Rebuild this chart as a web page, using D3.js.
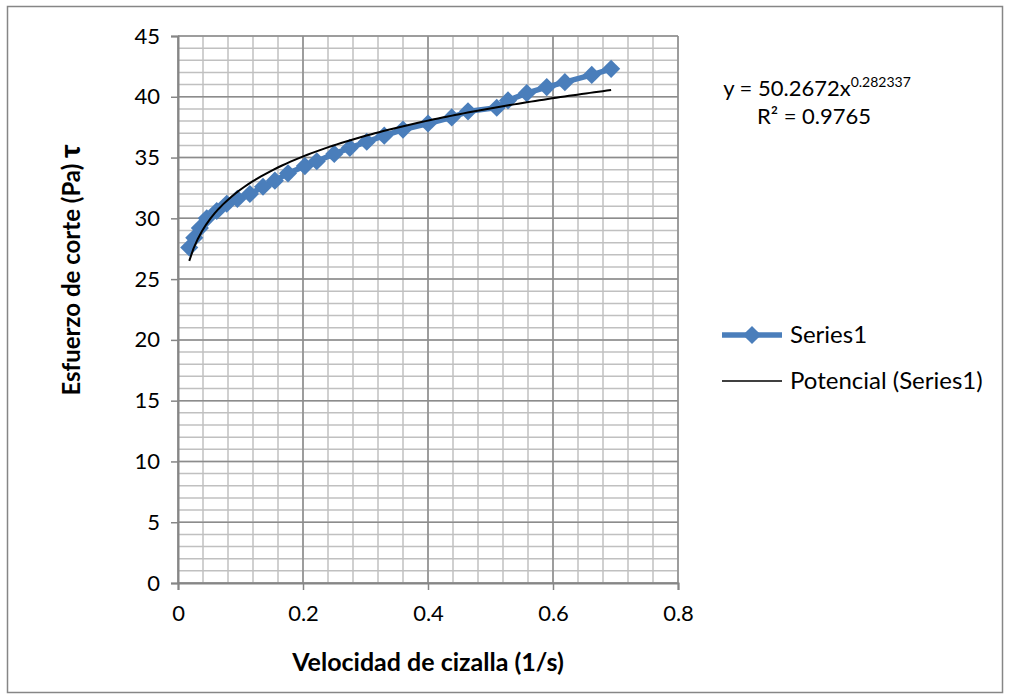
<!DOCTYPE html>
<html>
<head>
<meta charset="utf-8">
<title>Esfuerzo de corte</title>
<style>
  body { margin: 0; background: #fff; }
  svg text { font-family: Lato, "Open Sans", sans-serif; fill: #000; }
</style>
</head>
<body>
<div class="chart"></div>
<script src="https://cdn.jsdelivr.net/npm/d3@7"></script>
<script>
// data
var shearRate = [0.018, 0.026, 0.035, 0.046, 0.062, 0.078, 0.095, 0.115, 0.136, 0.155,
                 0.176, 0.203, 0.222, 0.25, 0.275, 0.302, 0.33, 0.36, 0.40, 0.438,
                 0.464, 0.51, 0.528, 0.558, 0.59, 0.619, 0.662, 0.693];
var stress    = [27.6, 28.4, 29.2, 30.0, 30.6, 31.2, 31.6, 32.0, 32.6, 33.1,
                 33.7, 34.3, 34.7, 35.3, 35.8, 36.3, 36.8, 37.3, 37.8, 38.3,
                 38.8, 39.1, 39.7, 40.3, 40.8, 41.2, 41.8, 42.3];
var xTicks = [0, 0.2, 0.4, 0.6, 0.8];
var yTicks = [0, 5, 10, 15, 20, 25, 30, 35, 40, 45];
var seriesNames = ["Series1", "Potencial (Series1)"];
var eqText = ["y = 50.2672x", "0.282337", "R\u00b2 = 0.9765"];

var width = 1010, height = 700;
var plotL = 178, plotR = 678, plotT = 36, plotB = 583;

var svg = d3.select(".chart").append("svg")
  .attr("width", width).attr("height", height);

// outer chart border
svg.append("rect")
  .attr("x", 7.5).attr("y", 6.5)
  .attr("width", 995).attr("height", 686)
  .attr("fill", "none").attr("stroke", "#868686").attr("stroke-width", 1.5);

var x = d3.scaleLinear().domain([0, 0.8]).range([plotL, plotR]);
var y = d3.scaleLinear().domain([0, 45]).range([plotB, plotT]);

// minor grid
var g = svg.append("g");
g.selectAll(".vminor").data(d3.range(0, 21).map(function(i){ return i * 0.04; }))
  .enter().append("line")
  .attr("x1", function(d){ return x(d); }).attr("x2", function(d){ return x(d); })
  .attr("y1", plotT).attr("y2", plotB)
  .attr("stroke", "#c0c0c0").attr("stroke-width", 1.5);
g.selectAll(".hminor").data(d3.range(0, 46))
  .enter().append("line")
  .attr("x1", plotL).attr("x2", plotR)
  .attr("y1", function(d){ return y(d); }).attr("y2", function(d){ return y(d); })
  .attr("stroke", "#c0c0c0").attr("stroke-width", 1.5);

// major grid
g.selectAll(".vmajor").data(xTicks)
  .enter().append("line")
  .attr("x1", function(d){ return x(d); }).attr("x2", function(d){ return x(d); })
  .attr("y1", plotT).attr("y2", plotB)
  .attr("stroke", "#8c8c8c").attr("stroke-width", 1.5);
g.selectAll(".hmajor").data(yTicks)
  .enter().append("line")
  .attr("x1", plotL).attr("x2", plotR)
  .attr("y1", function(d){ return y(d); }).attr("y2", function(d){ return y(d); })
  .attr("stroke", "#8c8c8c").attr("stroke-width", 1.5);

// axes
var xAxis = svg.append("g").attr("transform", "translate(0," + plotB + ")")
  .call(d3.axisBottom(x).tickValues(xTicks).tickSize(7).tickPadding(15)
    .tickFormat(function(d){ return d === 0 ? "0" : d3.format(".1f")(d); }));
var yAxis = svg.append("g").attr("transform", "translate(" + plotL + ",0)")
  .call(d3.axisLeft(y).tickValues(yTicks).tickSize(7).tickPadding(11));
[xAxis, yAxis].forEach(function(a){
  a.select(".domain").attr("stroke", "#868686").attr("stroke-width", 2);
  a.selectAll(".tick line").attr("stroke", "#868686").attr("stroke-width", 1.5);
  a.selectAll(".tick text").attr("font-size", 22).attr("font-family", "Lato, sans-serif").attr("fill", "#000");
});

// axis titles
svg.append("text")
  .attr("x", 428).attr("y", 671)
  .attr("text-anchor", "middle")
  .attr("font-size", 25).attr("font-weight", "bold")
  .text("Velocidad de cizalla (1/s)");
var yt = svg.append("text")
  .attr("transform", "translate(80,270) rotate(-90)")
  .attr("text-anchor", "middle")
  .attr("font-size", 24).attr("font-weight", "bold");
yt.append("tspan").text("Esfuerzo de corte (Pa) ");
yt.append("tspan").attr("font-size", 28).attr("font-weight", 900).text("\u03c4");

// series
var data = shearRate.map(function(d, i){ return [d, stress[i]]; });
var blue = "#4a7ebb";
var line = d3.line().x(function(d){ return x(d[0]); }).y(function(d){ return y(d[1]); });

svg.append("path").datum(data)
  .attr("d", line)
  .attr("fill", "none").attr("stroke", blue).attr("stroke-width", 5.5);

var diamond = d3.symbol().type(d3.symbolDiamond2).size(210);
svg.selectAll(".pt").data(data)
  .enter().append("path")
  .attr("transform", function(d){ return "translate(" + x(d[0]) + "," + y(d[1]) + ")"; })
  .attr("d", diamond)
  .attr("fill", blue);

// power trendline: least squares in log-log, like the spreadsheet does
var lx = shearRate.map(Math.log), ly = stress.map(Math.log);
var mx = d3.mean(lx), my = d3.mean(ly);
var b = d3.sum(lx, function(v, i){ return (v - mx) * (ly[i] - my); }) /
        d3.sum(lx, function(v){ return (v - mx) * (v - mx); });
var a = Math.exp(my - b * mx);
var x0 = d3.min(shearRate), x1 = d3.max(shearRate);
var trend = d3.range(0, 101).map(function(i){
  var xv = x0 + (x1 - x0) * i / 100;
  return [xv, a * Math.pow(xv, b)];
});
svg.append("path").datum(trend)
  .attr("d", line)
  .attr("fill", "none").attr("stroke", "#000").attr("stroke-width", 2);

// equation label
var eq = svg.append("text").attr("x", 817).attr("y", 96)
  .attr("text-anchor", "middle").attr("font-size", 22);
eq.append("tspan").text(eqText[0]);
eq.append("tspan").attr("dy", -9).attr("font-size", 14).text(eqText[1]);
svg.append("text").attr("x", 814).attr("y", 124)
  .attr("text-anchor", "middle").attr("font-size", 22)
  .text(eqText[2]);

// legend
var lg = svg.append("g");
lg.append("line").attr("x1", 722).attr("x2", 782).attr("y1", 335).attr("y2", 335)
  .attr("stroke", blue).attr("stroke-width", 5.5);
lg.append("path").attr("transform", "translate(752,335)").attr("d", diamond).attr("fill", blue);
lg.append("text").attr("x", 790).attr("y", 343).attr("font-size", 24).text(seriesNames[0]);
lg.append("line").attr("x1", 722).attr("x2", 782).attr("y1", 381).attr("y2", 381)
  .attr("stroke", "#000").attr("stroke-width", 1.5);
lg.append("text").attr("x", 790).attr("y", 389).attr("font-size", 24).text(seriesNames[1]);
</script>
</body>
</html>
